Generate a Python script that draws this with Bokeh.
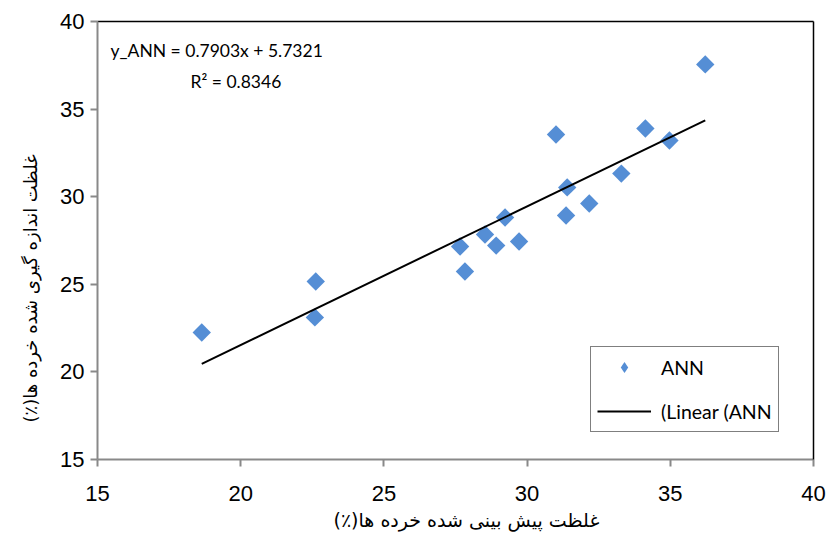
import numpy as np
from bokeh.plotting import figure
from bokeh.models import (Label, Legend, LegendItem, LinearAxis, Title,
                          SingleIntervalTicker, Range1d)
from bokeh.embed import file_html
from bokeh.resources import INLINE

# Data
predicted = [18.64, 22.62, 22.59, 27.66, 27.83, 28.53, 28.92, 29.23, 29.72,
             31.01, 31.40, 31.36, 32.17, 33.29, 34.13, 34.97, 36.22]
measured = [22.25, 25.16, 23.11, 27.16, 25.73, 27.84, 27.21, 28.81, 27.44,
            33.55, 30.53, 28.93, 29.61, 31.32, 33.89, 33.21, 37.55]
slope = 0.7903
intercept = 5.7321
r2 = 0.8346

x_title = "غلظت پیش بینی شده خرده ها(٪)\u200f"
y_title = "غلظت اندازه گیری شده خرده ها(٪)\u200f"
eq_text = "y_ANN = %.4fx + %.4f" % (slope, intercept)
r2_text = "R² = %.4f" % r2
series_label = "ANN"
trend_label = "(Linear (ANN"

AXIS_GRAY = "#898989"
BLUE = "#558ED5"

p = figure(width=830, height=544, x_range=Range1d(15, 40), y_range=Range1d(15, 40),
           output_backend="svg", toolbar_location=None,
           min_border_left=97, min_border_right=17, min_border_top=21,
           min_border_bottom=85)
p.background_fill_color = "white"
p.border_fill_color = "white"
p.outline_line_color = None
p.xgrid.visible = False
p.ygrid.visible = False

for ax in (p.xaxis[0], p.yaxis[0]):
    ax.ticker = SingleIntervalTicker(interval=5)
    ax.minor_tick_line_color = None
    ax.major_tick_in = 0
    ax.major_tick_out = 7
    ax.axis_line_color = AXIS_GRAY
    ax.axis_line_width = 2
    ax.major_tick_line_color = AXIS_GRAY
    ax.major_tick_line_width = 2
    ax.major_label_text_font = "Liberation Sans"
    ax.major_label_text_font_size = "22px"
    ax.major_label_text_color = "black"
p.xaxis[0].major_label_standoff = 19
p.yaxis[0].major_label_standoff = 6

# top and right black borders
for side in ("above", "right"):
    bax = LinearAxis(ticker=SingleIntervalTicker(interval=5))
    bax.axis_line_color = "black"
    bax.axis_line_width = 1.5
    bax.major_tick_line_color = None
    bax.minor_tick_line_color = None
    bax.major_label_text_font_size = "0px"
    bax.major_label_text_color = None
    bax.major_label_standoff = 0
    p.add_layout(bax, side)

# hidden diamond copy (lies fully beneath the rotated squares) used as legend glyph
legend_marks = p.scatter(predicted, measured, marker="diamond", size=12,
                         fill_color=BLUE, line_color=None)
sc = p.scatter(predicted, measured, marker="square", size=13, angle=np.pi / 4,
               fill_color=BLUE, line_color=None)

fx = np.array([min(predicted), max(predicted)])
fy = slope * fx + intercept
ln = p.line(fx, fy, line_color="black", line_width=2)

legend = Legend(items=[LegendItem(label=series_label, renderers=[legend_marks]),
                       LegendItem(label=trend_label, renderers=[ln])],
                location=(493, 27), glyph_width=54, glyph_height=28,
                label_height=28, spacing=16, padding=6, label_standoff=10,
                margin=0, border_line_color="black", border_line_width=1.5,
                background_fill_color="white", background_fill_alpha=1,
                label_text_font="Lato", label_text_font_size="19.5px",
                label_text_color="black")
p.add_layout(legend, "center")

p.add_layout(Label(x=13, y=409, x_units="screen", y_units="screen", text=eq_text,
                   text_font="Lato", text_font_size="17.5px", text_baseline="middle",
                   text_align="left", text_color="black"))
p.add_layout(Label(x=93, y=378, x_units="screen", y_units="screen", text=r2_text,
                   text_font="Lato", text_font_size="17.5px", text_baseline="middle",
                   text_align="left", text_color="black"))

p.add_layout(Title(text=x_title, align="left", offset=236, standoff=6,
                   text_font="DejaVu Sans", text_font_size="19px",
                   text_font_style="normal", text_color="black"), "below")
p.add_layout(Title(text=y_title, align="left", offset=37, standoff=33,
                   text_font="DejaVu Sans", text_font_size="18px",
                   text_font_style="normal", text_color="black"), "left")

open("out.html", "w").write(file_html(p, INLINE))
